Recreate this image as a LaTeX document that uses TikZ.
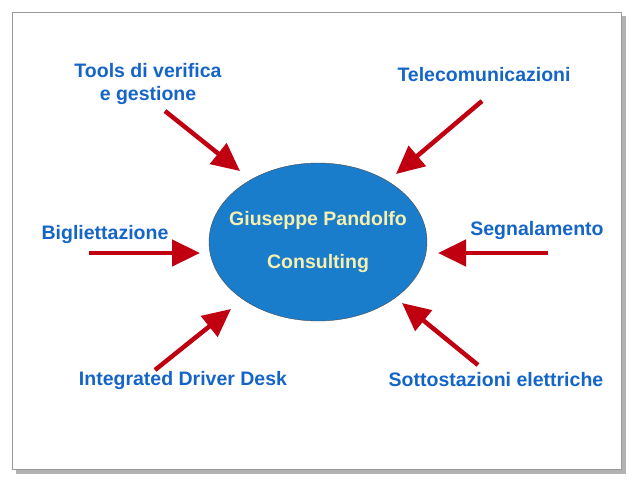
\documentclass[tikz,border=0pt]{standalone}
\usepackage{fontspec}
\setmainfont{Liberation Sans}
\usetikzlibrary{arrows.meta,shapes.geometric}
\definecolor{lblue}{HTML}{1565C8}
\definecolor{core}{HTML}{1A7DCB}
\definecolor{arr}{HTML}{C00010}
\definecolor{ltxt}{HTML}{F5F0B0}
\begin{document}
\begin{tikzpicture}[x=1pt,y=-1pt]
        \tikzstyle{label}=[text=lblue,font=\fontsize{19.5}{23}\selectfont\bfseries,align=center]
        \tikzstyle{feed}=[draw=arr,line width=4.5pt,-{Triangle[length=28pt,width=26pt]}]
        \useasboundingbox (0,0) rectangle (634,483);
        \fill[black!30] (16,16) rectangle (626,474);
        \draw[black!40,fill=white] (12,12) rectangle (621,469);
        \node[ellipse,draw=black!70,fill=core,minimum width=218pt,minimum height=158pt] (C) at (318,242) {};
        \node[text=ltxt,font=\fontsize{19.5}{23}\selectfont\bfseries,align=center] (C-txt) at (C)
              {Giuseppe Pandolfo\\[20pt]Consulting};

        \foreach \name/\txt/\x/\y in {tl/{Tools di verifica\\e gestione}/148/84, tr/Telecomunicazioni/484/75,
                                      l/Bigliettazione/105/234, r/Segnalamento/537/230,
                                      bl/Integrated Driver Desk/183/380, br/Sottostazioni elettriche/496/380}
                \node[label] (L-\name) at (\x,\y) {\txt};

        \foreach \name/\ax/\ay/\bx/\by in {tl/165/111/240/171, tr/482/101/396/174, l/89/253/200/253,
                                           r/548/253/438/253, bl/155/370/231/309, br/478/365/402/303}
        {
                \coordinate (S-\name) at (\ax,\ay);
                \coordinate (E-\name) at (\bx,\by);
                \draw[feed] (S-\name) -- (E-\name);
        }
\end{tikzpicture}
\end{document}
